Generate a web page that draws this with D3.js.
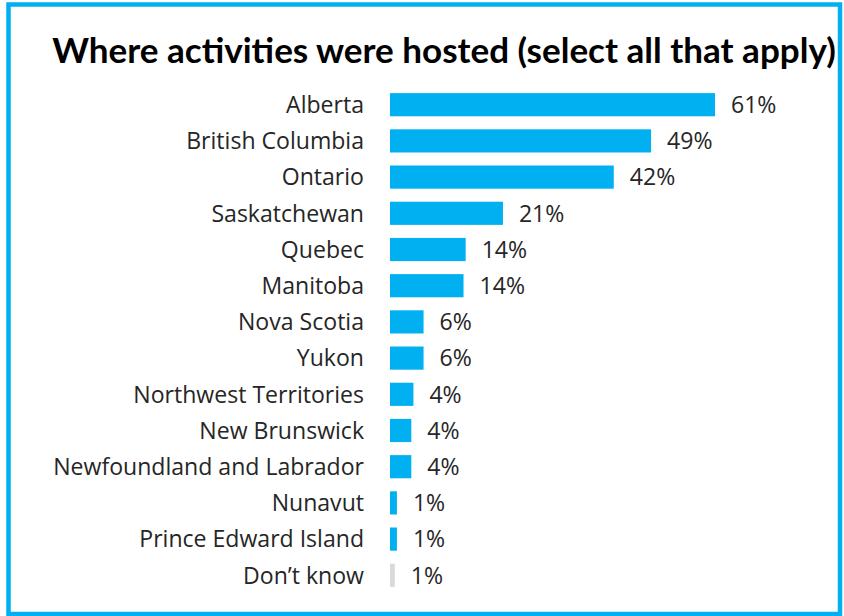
<!DOCTYPE html>
<html><head><meta charset="utf-8">
<script src="https://cdn.jsdelivr.net/npm/d3@7"></script>
<style>body{margin:0;background:#fff}svg{display:block}</style>
</head><body>
<svg id="chart" width="844" height="616"></svg>
<script>
const title = "Where activities were hosted (select all that apply)";
const categories = ["Alberta","British Columbia","Ontario","Saskatchewan","Quebec","Manitoba","Nova Scotia","Yukon","Northwest Territories","New Brunswick","Newfoundland and Labrador","Nunavut","Prince Edward Island","Don\u2019t know"];
const values = [61, 49, 42, 21.2, 14.2, 13.8, 6.3, 6.3, 4.4, 4.0, 4.0, 1.3, 1.3, 0.9];
const valueLabels = ["61%","49%","42%","21%","14%","14%","6%","6%","4%","4%","4%","1%","1%","1%"];
const barColors = ["#00B0F0","#00B0F0","#00B0F0","#00B0F0","#00B0F0","#00B0F0","#00B0F0","#00B0F0","#00B0F0","#00B0F0","#00B0F0","#00B0F0","#00B0F0","#D9D9D9"];

const svg = d3.select("#chart");
const titleFont = "Lato, 'Open Sans', sans-serif";
const font = "'Open Sans', Lato, sans-serif";

// border
svg.append("rect").attr("x",8.5).attr("y",4.5).attr("width",831.5).attr("height",609.5)
  .attr("fill","none").attr("stroke","#00B0F0").attr("stroke-width",4.5);

// title
const t = svg.append("text").text(title).attr("x",444).attr("y",63)
  .attr("text-anchor","middle").attr("font-family",titleFont).attr("font-weight","bold")
  .attr("font-size",30).attr("fill","#000");
const tw = t.node().getComputedTextLength();
t.attr("font-size", 30*784/tw);

const x = d3.scaleLinear().domain([0, 61]).range([390, 715]);
const y = d3.scaleBand().domain(categories).range([86.6, 593.4]).paddingInner(0.36).paddingOuter(0.18);

// fit label font size to reference width of longest label
const probe = svg.append("text").attr("font-family",font).attr("font-size",20).text("Newfoundland and Labrador");
const labelSize = 20*311/probe.node().getComputedTextLength();
probe.remove();

const g = svg.append("g");
g.selectAll("rect.bar").data(categories).join("rect").attr("class","bar")
  .attr("x", x(0)).attr("y", d => y(d)).attr("height", y.bandwidth())
  .attr("width", (d,i) => x(values[i]) - x(0)).attr("fill", (d,i) => barColors[i]);

g.selectAll("text.cat").data(categories).join("text").attr("class","cat")
  .attr("x", 364).attr("y", d => y(d) + y.bandwidth()/2).attr("dy","0.36em")
  .attr("text-anchor","end").attr("font-family",font).attr("font-size",labelSize)
  .attr("fill","#262626").text(d => d);

g.selectAll("text.val").data(categories).join("text").attr("class","val")
  .attr("x", (d,i) => x(values[i]) + 16).attr("y", d => y(d) + y.bandwidth()/2).attr("dy","0.36em")
  .attr("font-family",font).attr("font-size",labelSize).attr("fill","#262626")
  .text((d,i) => valueLabels[i]);
</script>
</body></html>
